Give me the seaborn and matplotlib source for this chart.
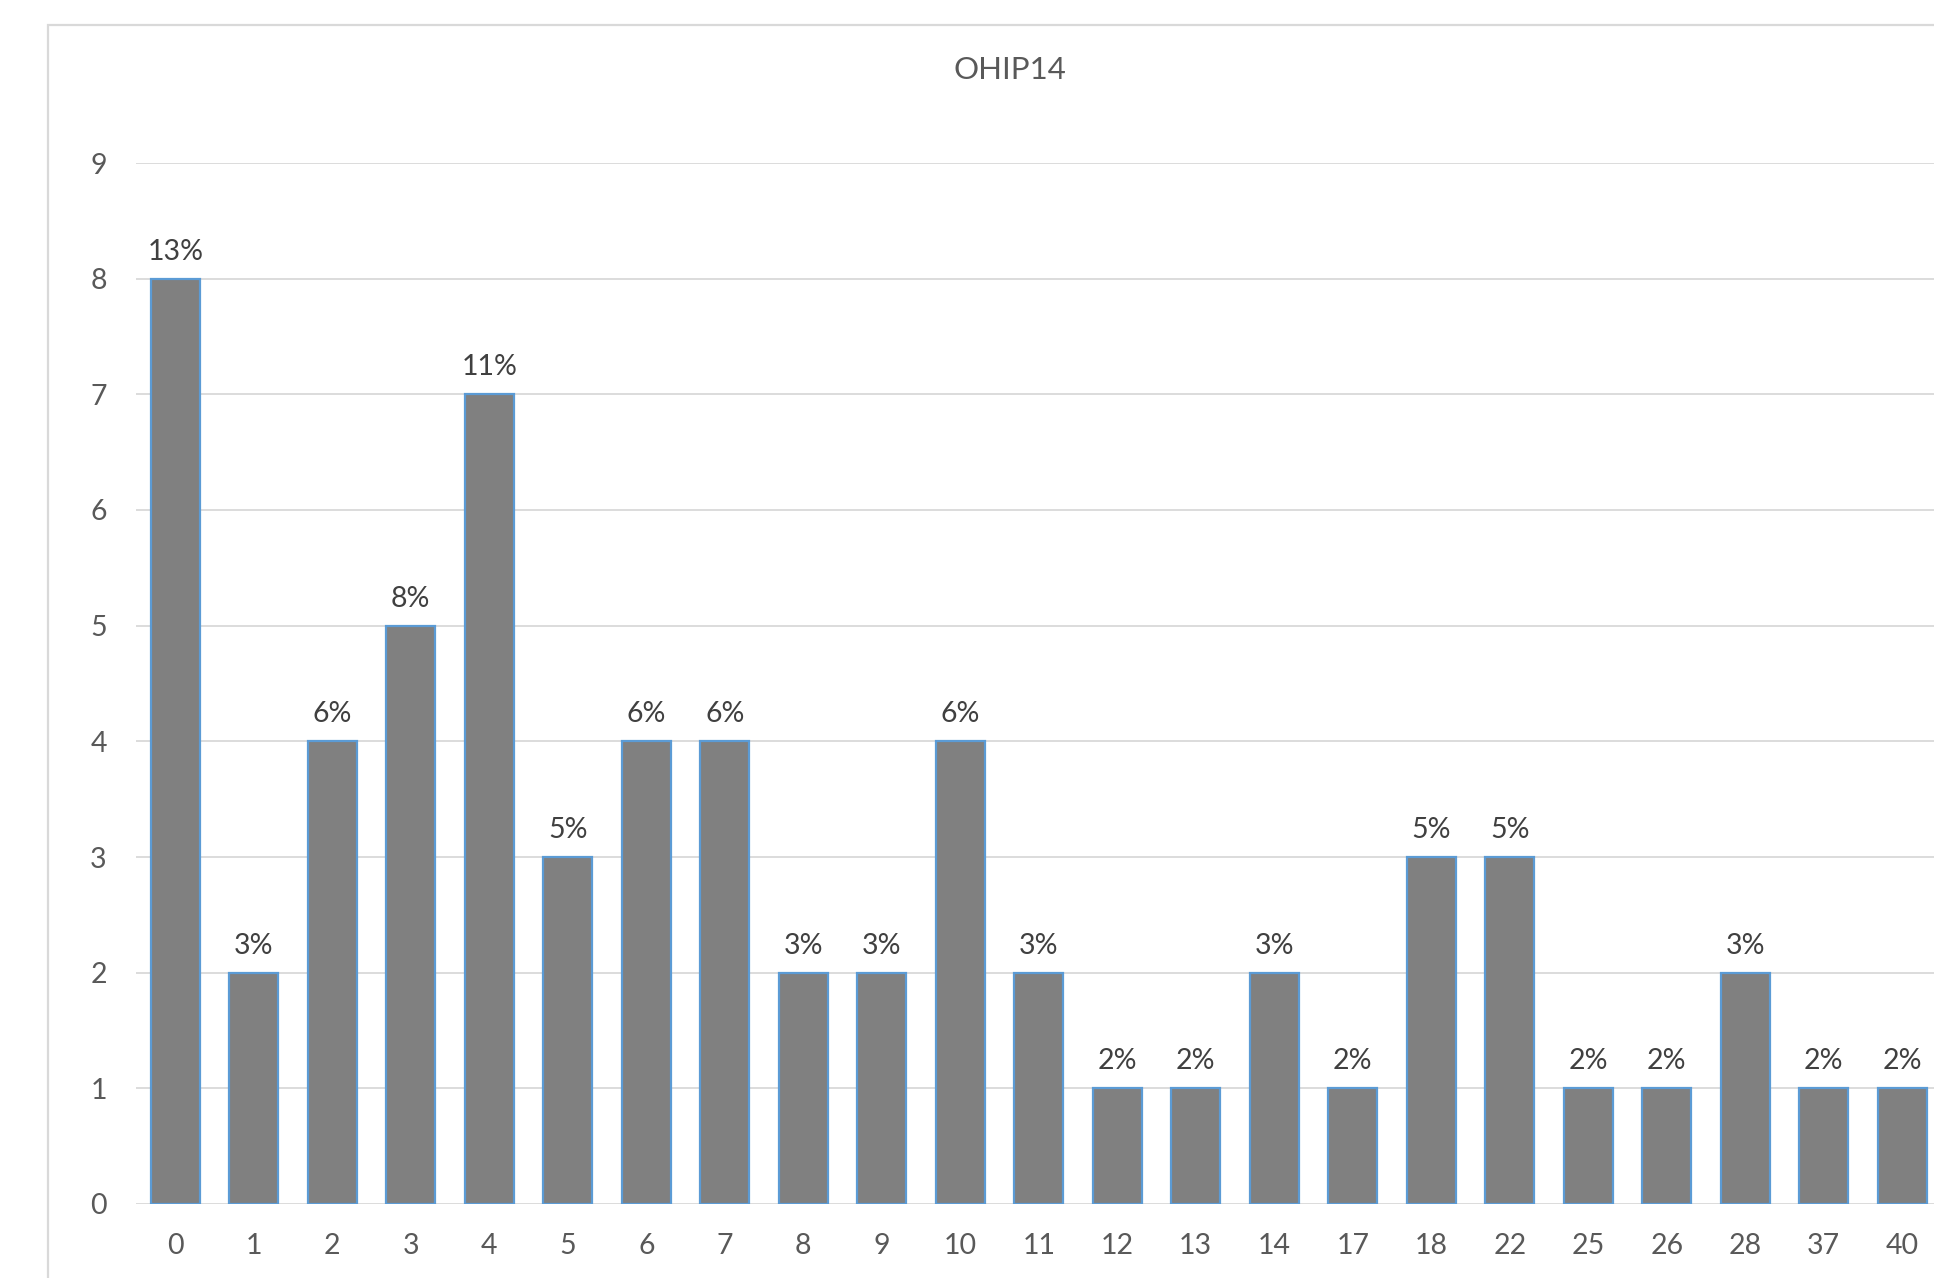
import matplotlib
matplotlib.use("Agg")
import matplotlib.pyplot as plt
import seaborn as sns
import pandas as pd
from matplotlib.patches import Rectangle

categories = ["0", "1", "2", "3", "4", "5", "6", "7", "8", "9", "10", "11",
              "12", "13", "14", "17", "18", "22", "25", "26", "28", "37", "40"]
counts = [8, 2, 4, 5, 7, 3, 4, 4, 2, 2, 4, 2, 1, 1, 2, 1, 3, 3, 1, 1, 2, 1, 1]
labels = ["13%", "3%", "6%", "8%", "11%", "5%", "6%", "6%", "3%", "3%", "6%", "3%",
          "2%", "2%", "3%", "2%", "5%", "5%", "2%", "2%", "3%", "2%", "2%"]
title = "OHIP14"
yticks = [0, 1, 2, 3, 4, 5, 6, 7, 8, 9]

sns.set_theme(style="white")
plt.rcParams["font.family"] = ["Lato", "DejaVu Sans"]

df = pd.DataFrame({"cat": categories, "n": counts})

W, H = 1934, 1278
fig = plt.figure(figsize=(W / 100, H / 100), dpi=100)
fig.patch.set_facecolor("white")

# chart border (Excel chart area), extends off the image on right/bottom
fig.patches.append(Rectangle((48 / W, -0.1), 1.2, 1 - 25 / H + 0.1,
                             transform=fig.transFigure, fill=False,
                             edgecolor="#d9d9d9", linewidth=1.6))

ax = fig.add_axes([136 / W, 74 / H, (1941.5 - 136) / W, (1204 - 163) / H])
sns.barplot(data=df, x="cat", y="n", order=categories, color="#808080",
            saturation=1, width=0.63, edgecolor="#5b9bd5", linewidth=1.6,
            ax=ax, zorder=3)

ax.set_xlim(-0.5, len(categories) - 0.5)
ax.set_ylim(0, 9)
ax.set_yticks(yticks)
ax.yaxis.grid(True, color="#d9d9d9", linewidth=1.3, zorder=0)
ax.set_axisbelow(True)
for s in ax.spines.values():
    s.set_visible(False)
ax.tick_params(axis="both", length=0, labelsize=20.5, labelcolor="#595959")
ax.tick_params(axis="y", pad=21)
ax.tick_params(axis="x", pad=21)
ax.set_xlabel("")
ax.set_ylabel("")

for i, (v, lab) in enumerate(zip(counts, labels)):
    ax.annotate(lab, (i, v), xytext=(0, 10), textcoords="offset points",
                ha="center", va="bottom", fontsize=20.5, color="#404040")

fig.text(1010 / W, 1 - 70 / H, title, ha="center", va="center",
         fontsize=22.5, color="#595959")

fig.savefig("out.png", dpi=100)
